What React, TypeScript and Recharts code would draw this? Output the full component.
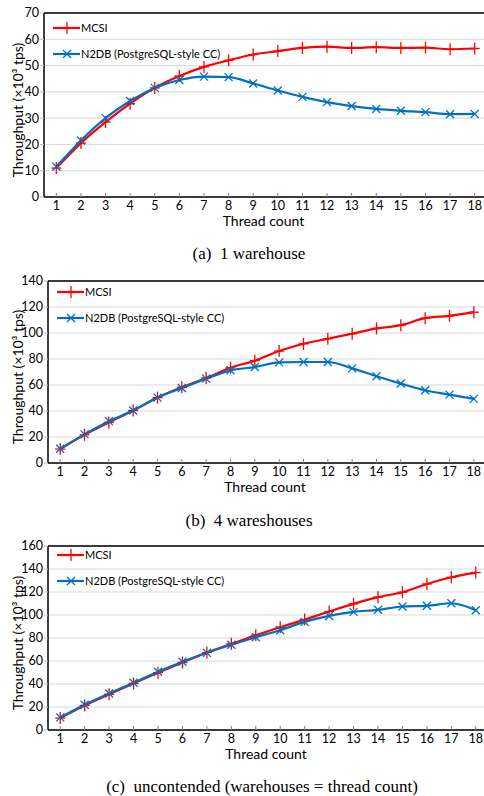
import React from 'react';
import { CartesianGrid, Label, Line, LineChart, ReferenceLine, XAxis, YAxis } from 'recharts';

const threadCounts = [1, 2, 3, 4, 5, 6, 7, 8, 9, 10, 11, 12, 13, 14, 15, 16, 17, 18];

// (a) 1 warehouse
const mcsiOneWh = [11, 20.5, 28.5, 35.5, 41.5, 46, 49.5, 52, 54.2, 55.5, 56.7, 57.2, 56.7, 57, 56.7, 56.8, 56.2, 56.5];
const n2dbOneWh = [11.5, 21.5, 30, 36.5, 41.5, 44.5, 45.8, 45.6, 43.2, 40.5, 38.1, 36.1, 34.6, 33.5, 32.8, 32.3, 31.5, 31.6];
const ticksOneWh = [0, 10, 20, 30, 40, 50, 60, 70];

// (b) 4 warehouses
const mcsiFourWh = [10.7, 21.7, 31.2, 40.4, 50.3, 58.3, 65.4, 73.3, 78.7, 86.1, 91.7, 95.6, 99.4, 103.5, 106, 111.4, 113.2, 116];
const n2dbFourWh = [11, 22, 32.2, 40.4, 50.3, 57.7, 64.9, 71.3, 73.8, 77.4, 77.7, 77.7, 72.8, 66.7, 61.1, 56, 52.6, 49.3];
const ticksFourWh = [0, 20, 40, 60, 80, 100, 120, 140];

// (c) uncontended
const mcsiUncont = [10.4, 21.4, 31, 40.5, 49.8, 58.7, 67.4, 74.9, 82.4, 89.4, 96, 103, 109.7, 115.5, 119.8, 127, 132.8, 136.9];
const n2dbUncont = [11, 22, 31.8, 41.1, 50.6, 59.3, 67.1, 74.1, 80.7, 86.8, 94, 99.2, 102.7, 104.5, 107.4, 108, 110.2, 104.2];
const ticksUncont = [0, 20, 40, 60, 80, 100, 120, 140, 160];

const RED = '#ff0000';
const BLUE = '#0070c0';
const FONT = 'Lato, "Open Sans", sans-serif';

const PlusDot = (props: any) => {
  const { cx, cy } = props;
  if (cx == null || cy == null) return null;
  return (
    <g>
      <line x1={cx} x2={cx} y1={cy - 6} y2={cy + 6} stroke={RED} strokeWidth={1.3} />
      <line x1={cx - 5} x2={cx + 5} y1={cy} y2={cy} stroke={RED} strokeWidth={1.3} />
    </g>
  );
};

const CrossDot = (props: any) => {
  const { cx, cy } = props;
  if (cx == null || cy == null) return null;
  return (
    <g>
      <line x1={cx - 4} x2={cx + 4} y1={cy - 4} y2={cy + 4} stroke={BLUE} strokeWidth={1.3} />
      <line x1={cx - 4} x2={cx + 4} y1={cy + 4} y2={cy - 4} stroke={BLUE} strokeWidth={1.3} />
    </g>
  );
};

const XTick = (props: any) => {
  const { x, y, payload } = props;
  return (
    <g>
      <line x1={x} x2={x} y1={y - 4} y2={y - 8} stroke="#7f7f7f" strokeWidth={1} />
      <text x={x} y={y + 9} textAnchor="middle" fill="#000" fontSize={12.5} fontFamily={FONT}>
        {payload.value}
      </text>
    </g>
  );
};

const LegendBox = ({ top, left }: { top: number; left: number }) => (
  <div style={{ position: 'absolute', top, left, fontFamily: FONT, fontSize: 11, color: '#000', lineHeight: '26px' }}>
    <div style={{ display: 'flex', alignItems: 'center' }}>
      <svg width={27} height={14}>
        <line x1={0} x2={27} y1={7} y2={7} stroke={RED} strokeWidth={2.2} />
        <PlusDot cx={14} cy={7} />
      </svg>
      <span style={{ marginLeft: 1 }}>MCSI</span>
    </div>
    <div style={{ display: 'flex', alignItems: 'center' }}>
      <svg width={27} height={14}>
        <line x1={0} x2={27} y1={7} y2={7} stroke={BLUE} strokeWidth={2.2} />
        <CrossDot cx={14} cy={7} />
      </svg>
      <span style={{ marginLeft: 1 }}>N2DB (PostgreSQL-style CC)</span>
    </div>
  </div>
);

interface PanelProps {
  mcsi: number[];
  n2db: number[];
  ticks: number[];
  axisWidth: number;
  chartWidth: number;
  plotHeight: number;
  legendTop: number;
}

function ThroughputPanel({ mcsi, n2db, ticks, axisWidth, chartWidth, plotHeight, legendTop }: PanelProps) {
  const rows = threadCounts.map((t, i) => ({ thread: t, mcsi: mcsi[i], n2db: n2db[i] }));
  const yMax = ticks[ticks.length - 1];
  const top = 13;
  const xAxisHeight = 35;
  const height = top + plotHeight + xAxisHeight;
  return (
    <div style={{ position: 'relative', width: 484, height, overflow: 'hidden' }}>
      <LineChart width={chartWidth} height={height} data={rows} margin={{ top, right: 0, left: 0, bottom: 0 }}>
        <CartesianGrid horizontal vertical={false} stroke="#d9d9d9" strokeWidth={1} />
        <XAxis
          dataKey="thread"
          scale="band"
          height={xAxisHeight}
          axisLine={{ stroke: '#000', strokeWidth: 1.5 }}
          tickLine={false}
          tickSize={0}
          tickMargin={4}
          tick={<XTick />}
          interval={0}
        >
          <Label
            content={({ viewBox }: any) => (
              <text
                x={viewBox.x + viewBox.width / 2 - 2}
                y={viewBox.y + 29}
                textAnchor="middle"
                fontSize={14}
                fontFamily={FONT}
                fill="#000"
              >
                Thread count
              </text>
            )}
          />
        </XAxis>
        <YAxis
          width={axisWidth}
          domain={[0, yMax]}
          ticks={ticks}
          interval={0}
          axisLine={{ stroke: '#000', strokeWidth: 1.5 }}
          tickLine={{ stroke: '#bfbfbf' }}
          tickSize={4}
          tickMargin={1}
          tick={{ fill: '#000', fontSize: 12.5, fontFamily: FONT }}
        >
          <Label
            content={({ viewBox }: any) => {
              const cx = 17;
              const cy = viewBox.y + viewBox.height / 2 + 5;
              return (
                <text
                  x={cx}
                  y={cy}
                  transform={`rotate(-90, ${cx}, ${cy})`}
                  textAnchor="middle"
                  dominantBaseline="central"
                  fontSize={14}
                  fontFamily={FONT}
                  fill="#000"
                >
                  Throughput (×10³ tps)
                </text>
              );
            }}
          />
        </YAxis>
        <ReferenceLine y={yMax} stroke="#000" strokeWidth={1.5} />
        <Line
          type="monotone"
          dataKey="mcsi"
          name="MCSI"
          stroke={RED}
          strokeWidth={2.2}
          dot={<PlusDot />}
          activeDot={false}
          isAnimationActive={false}
        />
        <Line
          type="monotone"
          dataKey="n2db"
          name="N2DB (PostgreSQL-style CC)"
          stroke={BLUE}
          strokeWidth={2.2}
          dot={<CrossDot />}
          activeDot={false}
          isAnimationActive={false}
        />
      </LineChart>
      <LegendBox top={top + legendTop} left={axisWidth + 9} />
    </div>
  );
}

const captionStyle: React.CSSProperties = {
  position: 'absolute',
  fontFamily: '"Liberation Serif", "Times New Roman", serif',
  fontSize: 17,
  lineHeight: '20px',
  whiteSpace: 'pre',
  transform: 'translateX(-50%)',
  color: '#000',
};

export default function App() {
  return (
    <div style={{ position: 'absolute', top: 0, left: 0, width: 484, height: 796, background: '#fff', overflow: 'hidden' }}>
      <div style={{ position: 'absolute', top: 0, left: 0 }}>
        <ThroughputPanel mcsi={mcsiOneWh} n2db={n2dbOneWh} ticks={ticksOneWh} axisWidth={44} chartWidth={487} plotHeight={184} legendTop={2} />
      </div>
      <div style={{ ...captionStyle, top: 244, left: 249 }}>(a)  1 warehouse</div>

      <div style={{ position: 'absolute', top: 268, left: 0 }}>
        <ThroughputPanel mcsi={mcsiFourWh} n2db={n2dbFourWh} ticks={ticksFourWh} axisWidth={48} chartWidth={486} plotHeight={182} legendTop={-2} />
      </div>
      <div style={{ ...captionStyle, top: 511, left: 249 }}>(b)  4 wareshouses</div>

      <div style={{ position: 'absolute', top: 533, left: 0 }}>
        <ThroughputPanel mcsi={mcsiUncont} n2db={n2dbUncont} ticks={ticksUncont} axisWidth={48} chartWidth={488} plotHeight={184} legendTop={-4} />
      </div>
      <div style={{ ...captionStyle, top: 777, left: 262 }}>(c)  uncontended (warehouses = thread count)</div>
    </div>
  );
}
